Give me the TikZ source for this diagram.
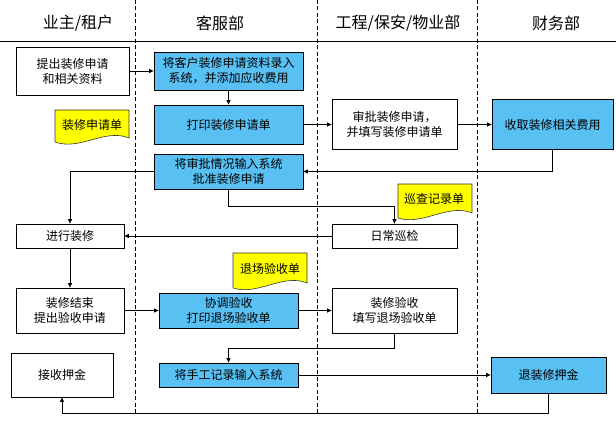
\documentclass[tikz,border=0pt]{standalone}
\usepackage{fontspec}
\setmainfont{Noto Sans CJK SC}
\usetikzlibrary{arrows.meta,calc}
\definecolor{boxblue}{RGB}{88,192,242}
\definecolor{docyellow}{RGB}{255,255,0}
\tikzset{
  box/.style={draw=black,line width=0.8pt,fill=white,inner sep=0pt,align=center,font=\fontsize{12}{15}\selectfont},
  bluebox/.style={box,fill=boxblue},
  doc/.style={draw=black!80,line width=0.6pt,fill=docyellow},
  doctext/.style={inner sep=0pt,font=\fontsize{12}{15}\selectfont},
  head/.style={inner sep=0pt,font=\fontsize{16}{18}\selectfont},
  arr/.style={line width=0.7pt,-{Triangle[length=4.5pt,width=4pt]}},
  lane/.style={line width=0.6pt,dash pattern=on 4pt off 2.5pt},
}
\begin{document}
\begin{tikzpicture}[x=1pt,y=-1pt]
\useasboundingbox (0,0) rectangle (616,427);
% header
\node[head] (h1) at (78,23) {业主/租户};
\node[head] (h2) at (220,23) {客服部};
\node[head] (h3) at (398,23) {工程/保安/物业部};
\node[head] (h4) at (556,23) {财务部};
\draw[line width=0.8pt] (0,41) -- (616,41);
\draw[lane] (135,0) -- (135,415);
\draw[lane] (317,0) -- (317,415);
\draw[lane] (477,0) -- (477,415);
% documents
\filldraw[doc] (55,110) -- (129,110) -- (129,138) .. controls (105,128) and (80,151) .. (55,142) -- cycle;
\node[doctext] (d1) at (92,125) {装修申请单};
\filldraw[doc] (398,184) -- (472,184) -- (472,213) .. controls (448,203) and (423,226) .. (398,218) -- cycle;
\node[doctext] (d2) at (434,199) {巡查记录单};
\filldraw[doc] (233,253) -- (307,253) -- (307,283) .. controls (283,273) and (258,296) .. (233,288) -- cycle;
\node[doctext] (d3) at (270,269) {退场验收单};
% boxes
\node[box,minimum width=113pt,minimum height=48pt] (b1) at (72.5,71) {提出装修申请\\和相关资料};
\node[bluebox,minimum width=149pt,minimum height=38pt] (b2) at (228.5,71) {将客户装修申请资料录入\\系统，并添加应收费用};
\node[bluebox,minimum width=149pt,minimum height=39pt] (b3) at (228.5,124.5) {打印装修申请单};
\node[box,minimum width=125pt,minimum height=50pt] (b4) at (394.5,124.5) {审批装修申请，\\并填写装修申请单};
\node[bluebox,minimum width=121pt,minimum height=50pt] (b5) at (552.5,124.5) {收取装修相关费用};
\node[bluebox,minimum width=149pt,minimum height=35pt] (b6) at (228.5,171.5) {将审批情况输入系统\\批准装修申请};
\node[box,minimum width=108pt,minimum height=24pt] (b7) at (70,236) {进行装修};
\node[box,minimum width=125pt,minimum height=24pt] (b8) at (394.5,236) {日常巡检};
\node[box,minimum width=108pt,minimum height=45pt] (b9) at (70,310.5) {装修结束\\提出验收申请};
\node[bluebox,minimum width=139pt,minimum height=35pt] (b10) at (228.5,310.5) {协调验收\\打印退场验收单};
\node[box,minimum width=125pt,minimum height=45pt] (b11) at (394.5,310.5) {装修验收\\填写退场验收单};
\node[box,minimum width=102pt,minimum height=44pt] (b12) at (62,375) {接收押金};
\node[bluebox,minimum width=139pt,minimum height=24pt] (b13) at (228.5,375) {将手工记录输入系统};
\node[bluebox,minimum width=115pt,minimum height=36pt] (b14) at (548.5,375) {退装修押金};
% connectors
\draw[arr] (b1.east) -- (b2.west);
\draw[arr] (b2.south) -- (b3.north);
\draw[arr] (b3.east) -- (b4.west);
\draw[arr] (b4.east) -- (b5.west);
\draw[arr] (b5.south) |- (b6.east);
\draw[arr] (b6.west) -| (b7.north);
\draw[arr] (b6.south) -- ++(0,17) -| (b8.north);
\draw[arr] (b8.west) -- (b7.east);
\draw[arr] (b7.south) -- (b9.north);
\draw[arr] (b9.east) -- (b10.west);
\draw[arr] (b10.east) -- (b11.west);
\draw[arr] (b11.south) -- ++(0,14.5) -| (b13.north);
\draw[arr] (b13.east) -- (b14.west);
\draw[arr] (b14.south) -- ++(0,20) -| (b12.south);
\end{tikzpicture}
\end{document}
